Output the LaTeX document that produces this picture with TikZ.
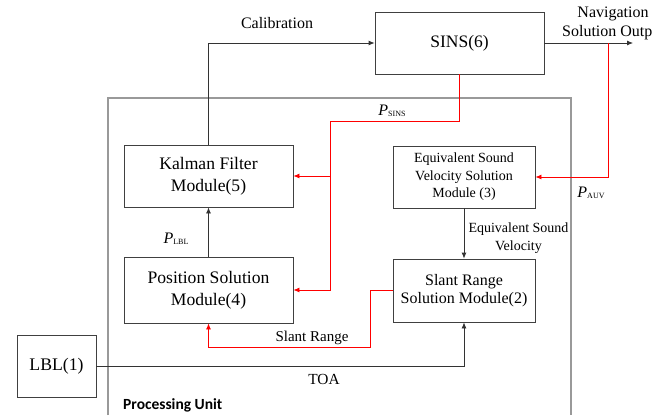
\documentclass[tikz,border=0pt]{standalone}
\usepackage{fontspec}
\setmainfont{Liberation Serif}
\newfontfamily\labelsans{Carlito}
\usetikzlibrary{arrows.meta}

\newcommand{\fsz}[1]{\fontsize{#1}{1.24\dimexpr#1pt\relax}\selectfont}
\newcommand{\subP}[1]{\textit{P}\raisebox{-1.5pt}{\fontsize{8}{8}\selectfont #1}}

\begin{document}
\begin{tikzpicture}[x=1pt,y=-1pt,
  module/.style={draw=black!75,line width=0.8pt,fill=white,inner sep=0pt,align=center},
  blkline/.style={draw=black!80,line width=0.8pt},
  redline/.style={draw=red,line width=0.8pt},
  tip/.style={-{Latex[length=6pt,width=5pt]}},
  lbl/.style={inner sep=0pt,align=center}]

\useasboundingbox (0,0) rectangle (669,415);

% processing unit frame (open at the bottom edge)
\draw[draw=black!40,line width=1.3pt] (108,415) -- (108,98) -- (571,98) -- (571,415);
\node[lbl,anchor=west,font=\labelsans\bfseries\fsz{15.5}] (punit) at (123,405) {Processing Unit};

% modules
\node[module,minimum width=169pt,minimum height=62pt,font=\fsz{17.5}] (sins) at (459.5,43) {SINS(6)};
\node[module,minimum width=169pt,minimum height=62pt,font=\fontsize{17.6}{21.7}\selectfont] (kalman) at (208.5,176) {Kalman Filter\\Module(5)};
\node[module,minimum width=169pt,minimum height=66pt,font=\fontsize{17.6}{21.7}\selectfont] (pos) at (208.5,290) {Position Solution\\Module(4)};
\node[module,minimum width=142pt,minimum height=62pt,font=\fontsize{14}{17.5}\selectfont] (eq) at (464,177) {Equivalent Sound\\Velocity Solution\\Module (3)};
\node[module,minimum width=142pt,minimum height=63pt,font=\fontsize{16}{18.3}\selectfont] (slant) at (464,290.5) {Slant Range\\Solution Module(2)};
\node[module,minimum width=79pt,minimum height=62pt,font=\fsz{17.7}] (lblbox) at (56.5,366) {LBL(1)};

% junction points
\coordinate (out) at (633,43);
\coordinate (tap) at (608,43);
\coordinate (jtop) at (330,121);
\coordinate (jmid) at (330,176);

% black connectors
\draw[blkline,tip] (kalman.north) |- (sins.west);
\draw[blkline,tip] (sins.east) -- (out);
\draw[blkline,tip] (pos.north) -- (kalman.south);
\draw[blkline,tip] (eq.south) -- (slant.north);
\draw[blkline,tip] (lblbox.east) -| (slant.south);

% red connectors
\draw[redline,tip] (sins.south) |- (jtop) |- (pos.east);
\draw[redline,tip] (jmid) -- (kalman.east);
\draw[redline,tip] (tap) |- (eq.east);
\draw[redline,tip] (slant.west) -| (370,347) -| (pos.south);

% labels
\node[lbl,font=\fsz{16}] (calib) at (277,23) {Calibration};
\node[lbl,font=\fsz{16}] (nav1) at (613,14) {Navigation};
\node[lbl,anchor=west,font=\fsz{16}] (nav2) at (562,33) {Solution Outp};
\node[lbl,font=\fsz{16}] (psins) at (392,111) {\subP{SINS}};
\node[lbl,font=\fsz{16}] (plbl) at (176,239) {\subP{LBL}};
\node[lbl,font=\fsz{16}] (pauv) at (591,193) {\subP{AUV}};
\node[lbl,font=\fontsize{14}{18.5}\selectfont] (esv) at (518.5,238) {Equivalent Sound\\Velocity};
\node[lbl,font=\fsz{15}] (srl) at (312,338) {Slant Range};
\node[lbl,font=\fsz{15.4}] (toa) at (324,379) {TOA};

\end{tikzpicture}
\end{document}
